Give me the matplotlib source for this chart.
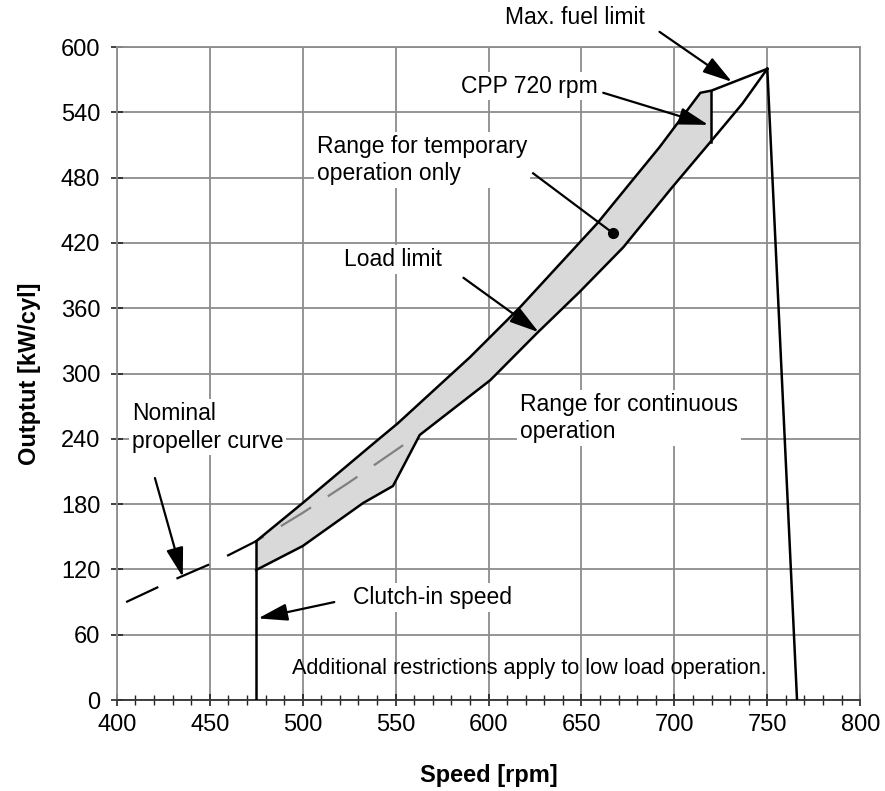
import numpy as np
import matplotlib
matplotlib.use("Agg")
import matplotlib.pyplot as plt

plt.rcParams['font.family'] = ['Liberation Sans', 'DejaVu Sans']

# upper edge of the temporary range, then the max. fuel limit to the apex
upper_rpm = [475, 500, 539, 551, 590, 617, 658.5, 692, 714, 720, 750]
upper_kw = [146, 181, 237, 254, 315, 361, 438, 508, 558, 560, 580]

# load limit (lower edge of the temporary range) up to the apex
lower_rpm = [475, 500, 532.5, 548.6, 563, 601, 626, 649, 672.5, 699, 719, 736.6, 750]
lower_kw = [119.5, 141.5, 181, 196.7, 243.6, 294, 337, 375, 416, 471.5, 512, 548, 580]

cpp_rpm = [719.5, 719.5]
cpp_kw = [560, 513]

drop_rpm = [750, 766]
drop_kw = [580, 0]

clutch_rpm = [475, 475]
clutch_kw = [0, 146]

# nominal propeller curve
prop_rpm = [405, 430, 453, 475, 500, 525, 559]
prop_kw = [90, 110, 127, 146, 172, 200, 240]

fig = plt.figure(figsize=(8.85, 7.91), dpi=100)
ax = fig.add_axes([0.132, 0.115, 0.840, 0.8255])

ax.set_xlim(400, 800)
ax.set_ylim(0, 600)
ax.set_xticks(np.arange(400, 801, 50))
ax.set_xticks(np.arange(400, 801, 10), minor=True)
ax.set_yticks(np.arange(0, 601, 60))
ax.grid(True, which='major', color='#8c8c8c', lw=1.3)
ax.set_axisbelow(True)
for s in ['left', 'top', 'right']:
    ax.spines[s].set_color('#8c8c8c')
    ax.spines[s].set_linewidth(1.3)
ax.spines['bottom'].set_color('#333333')
ax.spines['bottom'].set_linewidth(1.3)
ax.tick_params(axis='both', which='major', direction='inout', length=8, width=1.2,
               color='#222222', labelsize=17, pad=6)
ax.tick_params(axis='x', which='minor', direction='inout', length=7, width=1.0, color='#222222')
ax.tick_params(axis='y', pad=8)

ax.set_xlabel('Speed [rpm]', fontsize=17, fontweight='bold', labelpad=20)
ax.set_ylabel('Outptut [kW/cyl]', fontsize=17, fontweight='bold', labelpad=14)

# shaded temporary range
n_up = upper_rpm.index(720) + 1
poly_x = upper_rpm[:n_up] + cpp_rpm[1:] + [r for r in lower_rpm if r <= 719][::-1]
poly_y = upper_kw[:n_up] + cpp_kw[1:] + [k for r, k in zip(lower_rpm, lower_kw) if r <= 719][::-1]
ax.fill(poly_x, poly_y, color='#d9d9d9', lw=0, zorder=2)

lw = 1.8
ax.plot(upper_rpm, upper_kw, color='black', lw=lw, zorder=4)
ax.plot(lower_rpm, lower_kw, color='black', lw=lw, zorder=4)
ax.plot(cpp_rpm, cpp_kw, color='black', lw=lw, zorder=4)
ax.plot(drop_rpm, drop_kw, color='black', lw=lw, zorder=4)
ax.plot(clutch_rpm, clutch_kw, color='black', lw=lw, zorder=4)

px = np.array(prop_rpm)
pk = np.array(prop_kw)
ax.plot(px[px <= 475], pk[px <= 475], color='black', lw=1.6, linestyle=(0, (16, 9)), zorder=3)
ax.plot(px[px >= 475], pk[px >= 475], color='#808080', lw=1.6, linestyle=(12, (16, 9)), zorder=3)

fs = 16.5
box = dict(facecolor='white', edgecolor='none', pad=2)

ax.text(684.3, 627, 'Max. fuel limit', fontsize=fs, va='center', ha='right')
ax.text(659, 564, 'CPP 720 rpm', fontsize=fs, va='center', ha='right', bbox=box, zorder=3)
ax.text(621, 496, 'Range for temporary\noperation only', fontsize=fs, va='center', ha='right',
        multialignment='left', linespacing=1.25, bbox=box, zorder=3)
ax.text(522, 405, 'Load limit', fontsize=fs, va='center', ha='left', bbox=box, zorder=3)
ax.text(617, 259, 'Range for continuous\noperation', fontsize=fs, va='center', ha='left',
        linespacing=1.25, bbox=box, zorder=3)
ax.text(408, 250.5, 'Nominal\npropeller curve', fontsize=fs, va='center', ha='left',
        linespacing=1.25, bbox=box, zorder=3)
ax.text(612.5, 94, 'Clutch-in speed', fontsize=fs, va='center', ha='right', bbox=box, zorder=3)
ax.text(494, 29.4, 'Additional restrictions apply to low load operation.', fontsize=15.6,
        va='center', ha='left', zorder=3)

arrow = dict(arrowstyle='-|>,head_length=1.2,head_width=0.35', color='black', lw=1.6,
             mutation_scale=15, shrinkA=0, shrinkB=0)
ax.annotate('', xy=(731, 568), xytext=(692, 614), arrowprops=arrow, annotation_clip=False, zorder=5)
ax.annotate('', xy=(718.3, 528.5), xytext=(661.7, 558), arrowprops=arrow, zorder=5)
ax.annotate('', xy=(627, 338), xytext=(586.5, 388), arrowprops=arrow, zorder=5)
ax.annotate('', xy=(435.5, 113), xytext=(420.5, 204), arrowprops=arrow, zorder=5)
ax.annotate('', xy=(476, 75), xytext=(517, 90), arrowprops=arrow, zorder=5)

# pointer with a dot for the temporary range
ax.plot([624, 667], [484, 429], color='black', lw=1.6, zorder=5)
ax.plot([667], [429], 'o', color='black', ms=7, zorder=5)

fig.savefig('out.png', dpi=100)
